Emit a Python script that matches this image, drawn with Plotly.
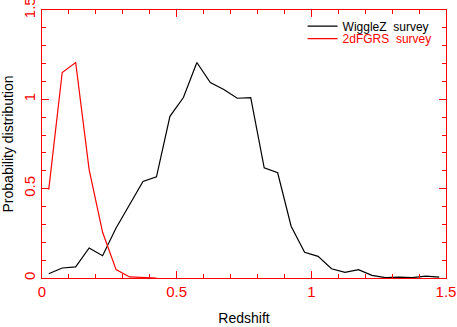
import plotly.graph_objects as go

wiggle_z = [0.025, 0.075, 0.125, 0.175, 0.225, 0.275, 0.325, 0.375, 0.425, 0.475, 0.525,
            0.575, 0.625, 0.675, 0.725, 0.775, 0.825, 0.875, 0.925, 0.975, 1.025, 1.075,
            1.125, 1.175, 1.225, 1.275, 1.325, 1.375, 1.425, 1.475]
wiggle_p = [0.024, 0.056, 0.062, 0.168, 0.125, 0.28, 0.41, 0.54, 0.566, 0.905, 1.01,
            1.206, 1.094, 1.055, 1.006, 1.01, 0.617, 0.589, 0.29, 0.144, 0.121, 0.052,
            0.032, 0.047, 0.015, 0.002, 0.005, 0.002, 0.011, 0.005]

twodf_z = [0.025, 0.075, 0.125, 0.175, 0.225, 0.275, 0.325, 0.375, 0.425]
twodf_p = [0.495, 1.15, 1.206, 0.607, 0.256, 0.047, 0.006, 0.001, 0.0]

tick_vals = [0, 0.5, 1, 1.5]
tick_text = ["0", "0.5", "1", "1.5"]

FONT = "Liberation Sans, Arial, sans-serif"

fig = go.Figure()
fig.add_trace(go.Scatter(x=wiggle_z, y=wiggle_p, mode="lines",
                         line=dict(color="black", width=1.2),
                         name="<span style='color:black'>WiggleZ  survey</span>",
                         legend="legend"))
fig.add_trace(go.Scatter(x=twodf_z, y=twodf_p, mode="lines",
                         line=dict(color="red", width=1.2),
                         name="<span style='color:red'>2dFGRS  survey</span>",
                         legend="legend2"))

axis_common = dict(
    showgrid=False, zeroline=False, showline=True, linecolor="red", linewidth=1.2,
    mirror="allticks", ticks="inside", ticklen=7, tickcolor="red", tickwidth=1,
    tickfont=dict(color="red", size=15, family=FONT),
    minor=dict(ticks="inside", ticklen=4, tickcolor="red", dtick=0.1),
    automargin=False, ticklabeloverflow="allow",
    range=[0, 1.5], tickvals=tick_vals, ticktext=tick_text,
)

legend_common = dict(xanchor="left", yanchor="middle", bgcolor="rgba(0,0,0,0)",
                     font=dict(size=12, family=FONT), itemwidth=30)

fig.update_layout(
    width=457, height=327,
    margin=dict(l=42, r=11, t=10, b=49),
    paper_bgcolor="white", plot_bgcolor="white",
    font=dict(family=FONT, size=13, color="black"),
    xaxis=dict(title=dict(text="Redshift", standoff=14, font=dict(size=14)),
               ticklabelstandoff=0, **axis_common),
    yaxis=dict(tickangle=-90, ticklabelstandoff=0,
               title=dict(text="Probability distribution", standoff=12, font=dict(size=14)),
               **axis_common),
    legend=dict(x=0.645, y=0.94, **legend_common),
    legend2=dict(x=0.645, y=0.893, **legend_common),
    showlegend=True,
)

fig.write_html("out.html", config={"displayModeBar": False},
               post_script="document.body.style.margin='0';")
